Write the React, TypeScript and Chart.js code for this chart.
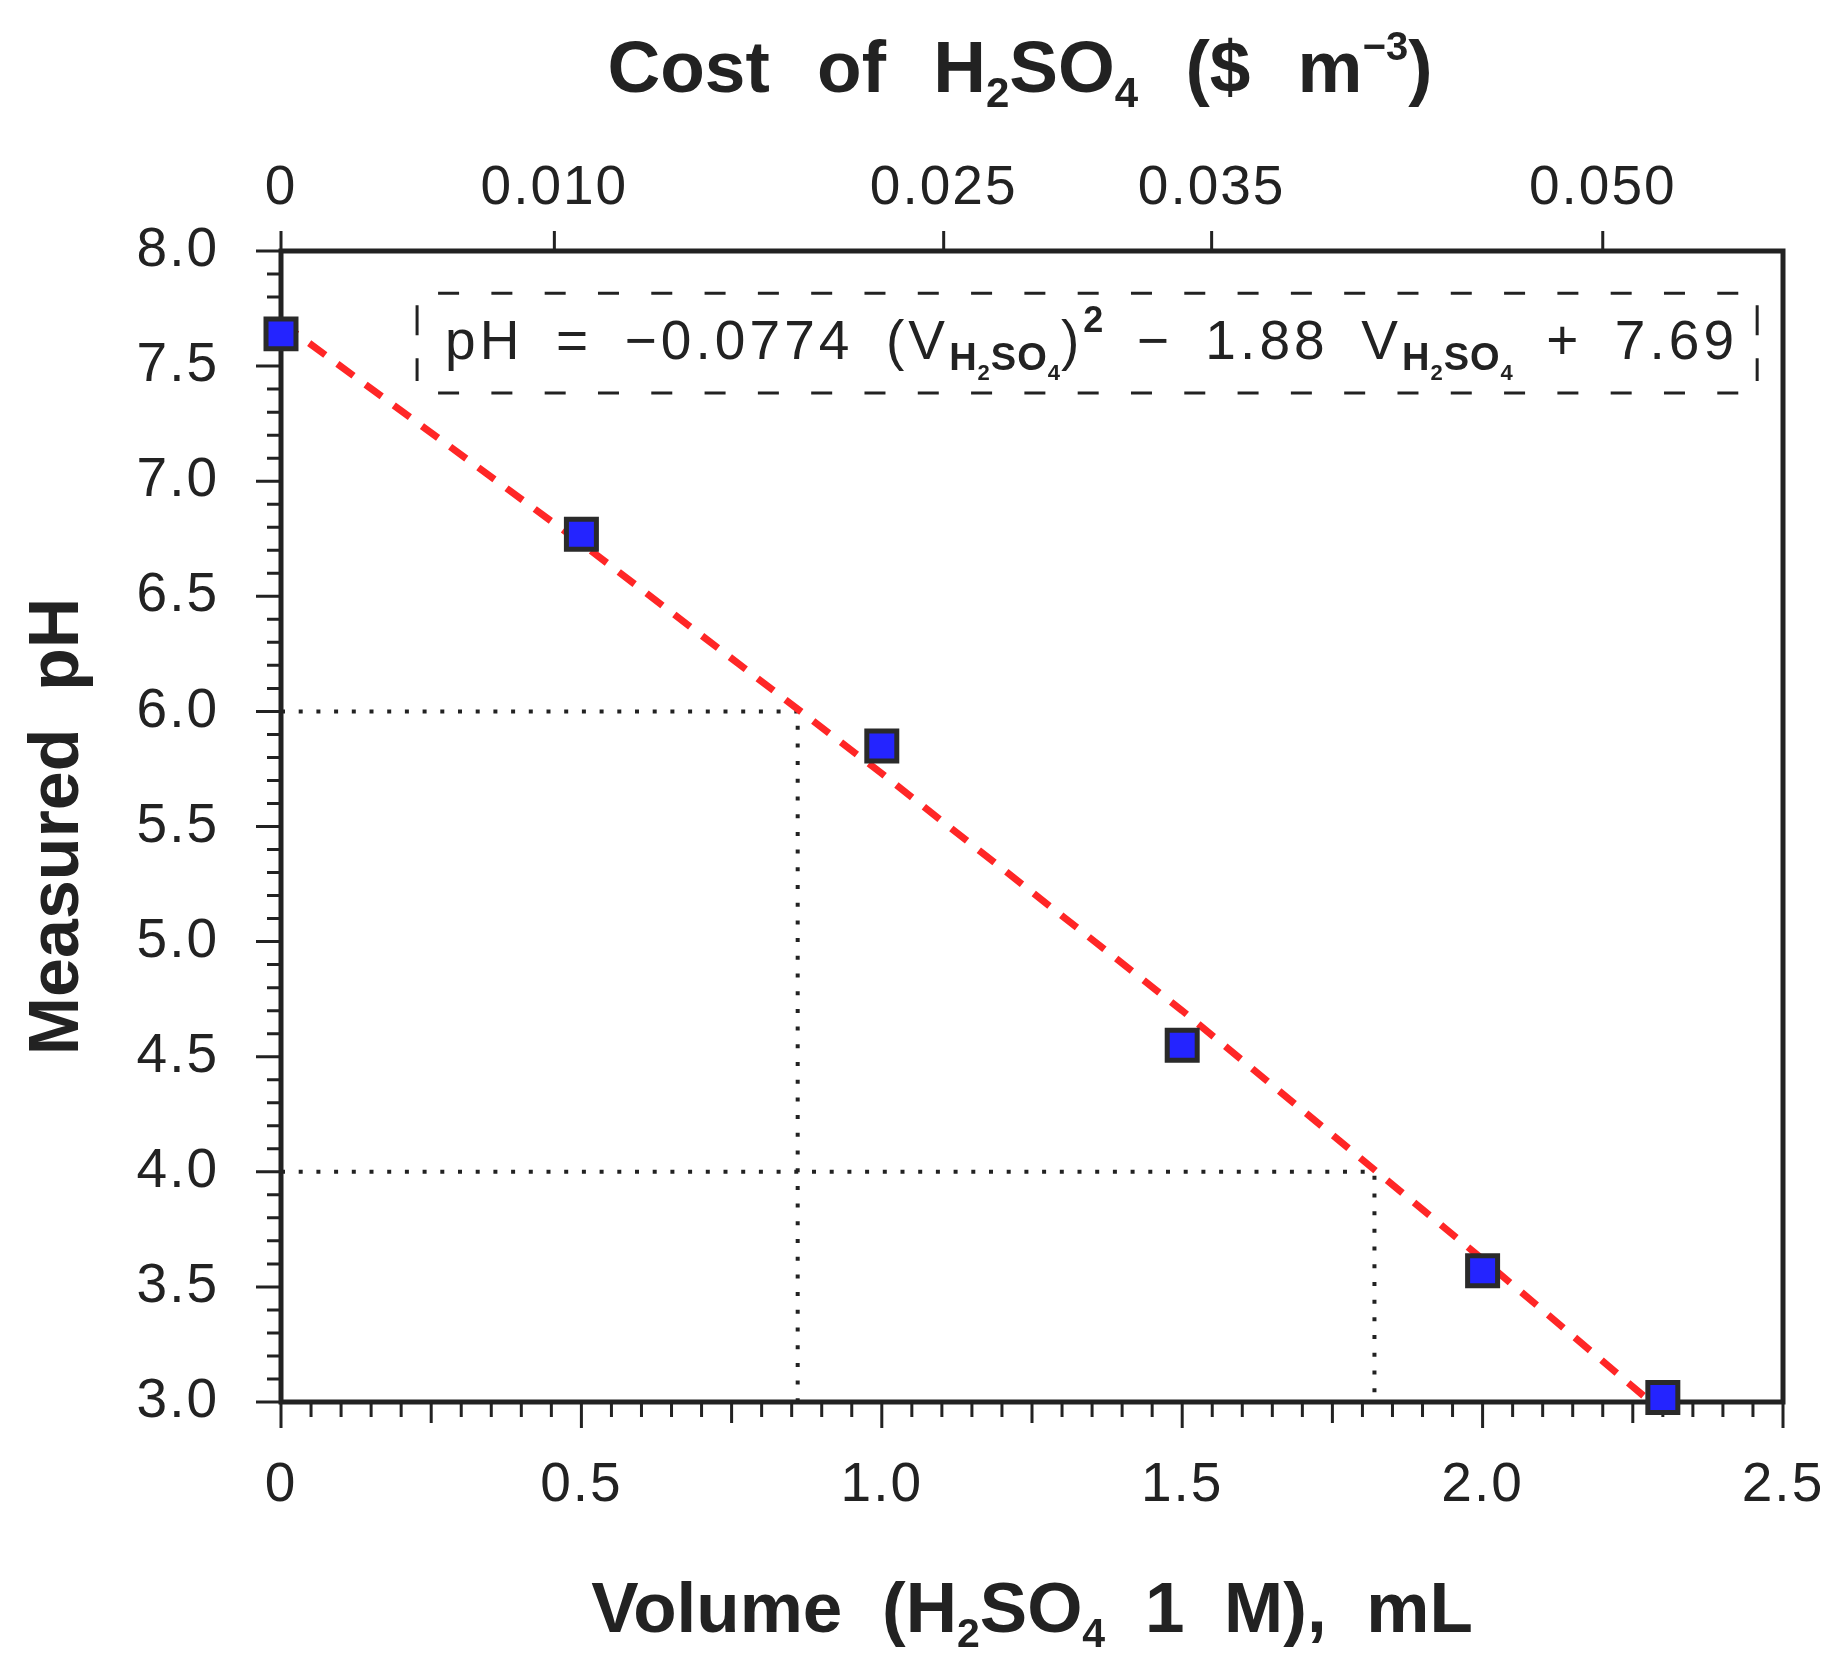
import { useEffect, useRef } from "react";
import { Chart, registerables } from "chart.js";
import type { ChartConfiguration, Plugin, Scale } from "chart.js";

Chart.register(...registerables);

// measured pH after each addition of 1 M H2SO4 (mL)
const volume = [0, 0.5, 1.0, 1.5, 2.0, 2.3];
const measuredPh = [7.64, 6.77, 5.85, 4.55, 3.57, 3.02];

// quadratic fit
const fitVolume = [0, 0.5, 1.0, 1.5, 2.0, 2.28];
const fitPh = [7.69, 6.73, 5.73, 4.7, 3.62, 3.0];

// dotted guides for pH 6 and pH 4
const guide6Volume = [0, 0.86, 0.86];
const guide6Ph = [6, 6, 3];
const guide4Volume = [0, 1.82, 1.82];
const guide4Ph = [4, 4, 3];

const xTickValues = [0, 0.5, 1.0, 1.5, 2.0, 2.5];
const xTickLabels = ["0", "0.5", "1.0", "1.5", "2.0", "2.5"];
const yTickValues = [3, 3.5, 4, 4.5, 5, 5.5, 6, 6.5, 7, 7.5, 8];
const yTickLabels = ["3.0", "3.5", "4.0", "4.5", "5.0", "5.5", "6.0", "6.5", "7.0", "7.5", "8.0"];
// top axis: cost ticks, placed on the volume scale
const costTickPos = [0, 0.455, 1.103, 1.549, 2.2];
const costTickLabels = ["0", "0.010", "0.025", "0.035", "0.050"];

const INK = "#222222";
const FAMILY = '"Liberation Sans", Arial, Helvetica, sans-serif';

interface Run {
  text: string;
  size: number;
  bold?: boolean;
  dy?: number;
  ls?: number;
}

const fontOf = (r: Run) => `${r.bold ? "bold " : ""}${r.size}px ${FAMILY}`;

function drawRuns(
  ctx: CanvasRenderingContext2D,
  runs: Run[],
  x: number,
  y: number,
  align: "left" | "center",
  letter: number,
  word: number
) {
  const c = ctx as any;
  c.wordSpacing = `${word}px`;
  let total = 0;
  const widths = runs.map((r) => {
    c.letterSpacing = `${r.ls ?? letter}px`;
    ctx.font = fontOf(r);
    const w = ctx.measureText(r.text).width;
    total += w;
    return w;
  });
  let cx = align === "center" ? x - total / 2 : x;
  ctx.textAlign = "left";
  ctx.textBaseline = "alphabetic";
  runs.forEach((r, i) => {
    c.letterSpacing = `${r.ls ?? letter}px`;
    ctx.font = fontOf(r);
    ctx.fillText(r.text, cx, y + (r.dy ?? 0));
    cx += widths[i];
  });
  c.letterSpacing = "0px";
  c.wordSpacing = "0px";
}

const sub = (t: string): Run => ({ text: t, size: 42, bold: true, dy: 15 });
const topTitle: Run[] = [
  { text: "Cost of H", size: 73, bold: true },
  sub("2"),
  { text: "SO", size: 73, bold: true },
  sub("4"),
  { text: " ($ m", size: 73, bold: true },
  { text: "\u22123", size: 40, bold: true, dy: -32 },
  { text: ")", size: 73, bold: true },
];
const bottomTitle: Run[] = [
  { text: "Volume (H", size: 71, bold: true },
  { text: "2", size: 41, bold: true, dy: 15 },
  { text: "SO", size: 71, bold: true },
  { text: "4", size: 41, bold: true, dy: 15 },
  { text: " 1 M), mL", size: 71, bold: true },
];
const sideTitle: Run[] = [{ text: "Measured pH", size: 70, bold: true }];

const eqSub: Run[] = [
  { text: "H", size: 38, bold: true, dy: 11, ls: 1 },
  { text: "2", size: 22, bold: true, dy: 21, ls: 1 },
  { text: "SO", size: 38, bold: true, dy: 11, ls: 1 },
  { text: "4", size: 22, bold: true, dy: 21, ls: 1 },
];
const equation: Run[] = [
  { text: "pH = \u22120.0774 (V", size: 55 },
  ...eqSub,
  { text: ")", size: 55 },
  { text: "2", size: 36, bold: true, dy: -27, ls: 1 },
  { text: " \u2212 1.88 V", size: 55 },
  ...eqSub,
  { text: " + 7.69", size: 55 },
];

// equation box, in data units
const boxVolume = [0.2265, 2.457];
const boxPh = [7.817, 7.383];
const eqStart = { v: 0.273, ph: 7.531 };

const framePlugin: Plugin<"scatter"> = {
  id: "frame",
  beforeDatasetsDraw(chart) {
    const { ctx, chartArea: a } = chart;
    const x = chart.scales.x;
    const y = chart.scales.y;
    ctx.save();
    (ctx as any).letterSpacing = "0px";
    ctx.strokeStyle = INK;
    ctx.lineWidth = 5;
    ctx.strokeRect(a.left, a.top, a.right - a.left, a.bottom - a.top);

    ctx.lineWidth = 3;
    ctx.beginPath();
    for (let i = 0; i <= 50; i++) {
      const py = y.getPixelForValue(3 + i * 0.1);
      const len = i % 5 === 0 ? 25 : 14;
      ctx.moveTo(a.left, py);
      ctx.lineTo(a.left - len, py);
    }
    for (let i = 0; i <= 50; i++) {
      const px = x.getPixelForValue(i * 0.05);
      const len = i % 10 === 0 ? 26 : i % 5 === 0 ? 21 : 15;
      ctx.moveTo(px, a.bottom);
      ctx.lineTo(px, a.bottom + len);
    }
    for (const v of costTickPos) {
      const px = x.getPixelForValue(v);
      ctx.moveTo(px, a.top);
      ctx.lineTo(px, a.top - 20);
    }
    ctx.stroke();
    ctx.restore();
  },
  afterDraw(chart) {
    const { ctx, chartArea: a } = chart;
    const x = chart.scales.x;
    const y = chart.scales.y;
    ctx.save();
    ctx.fillStyle = INK;
    ctx.strokeStyle = INK;

    // axis titles
    drawRuns(ctx, topTitle, (a.left + a.right) / 2 - 12, 92, "center", 0, 27);
    drawRuns(ctx, bottomTitle, (a.left + a.right) / 2, 1632, "center", 0, 20);
    ctx.save();
    ctx.translate(78, (a.top + a.bottom) / 2);
    ctx.rotate(-Math.PI / 2);
    drawRuns(ctx, sideTitle, 0, 0, "center", 0, 18);
    ctx.restore();

    // dashed equation box
    const bx0 = x.getPixelForValue(boxVolume[0]);
    const bx1 = x.getPixelForValue(boxVolume[1]);
    const by0 = y.getPixelForValue(boxPh[0]);
    const by1 = y.getPixelForValue(boxPh[1]);
    ctx.lineWidth = 3;
    ctx.setLineDash([21, 32.3]);
    ctx.beginPath();
    ctx.moveTo(bx0 + 21, by0);
    ctx.lineTo(bx1 - 18, by0);
    ctx.moveTo(bx0 + 21, by1);
    ctx.lineTo(bx1 - 18, by1);
    ctx.stroke();
    ctx.setLineDash([30, 23]);
    ctx.beginPath();
    ctx.moveTo(bx0, by0 + 12);
    ctx.lineTo(bx0, by1 - 12);
    ctx.moveTo(bx1, by0 + 12);
    ctx.lineTo(bx1, by1 - 12);
    ctx.stroke();
    ctx.setLineDash([]);

    drawRuns(
      ctx,
      equation,
      x.getPixelForValue(eqStart.v),
      y.getPixelForValue(eqStart.ph),
      "left",
      4.1,
      13
    );
    ctx.restore();
  },
};

const tickFont = { family: FAMILY, size: 55, lineHeight: 1 };

const pts = (xs: number[], ys: number[]) => xs.map((v, i) => ({ x: v, y: ys[i] }));

// keep the plot area free of Chart.js label-overflow padding
const noSidePadding = (s: Scale) => {
  s.paddingLeft = 0;
  s.paddingRight = 0;
};

const App = () => {
  const canvasRef = useRef<HTMLCanvasElement | null>(null);

  useEffect(() => {
    const canvas = canvasRef.current;
    if (!canvas) return;

    const config: ChartConfiguration<"scatter"> = {
      type: "scatter",
      data: {
        datasets: [
          {
            label: "Measured pH",
            data: pts(volume, measuredPh),
            showLine: false,
            pointStyle: "rect",
            pointRadius: 21.2,
            pointHoverRadius: 21.2,
            pointBorderWidth: 5,
            pointBackgroundColor: "#2424ff",
            pointBorderColor: "#2a2a2a",
            clip: false,
          },
          {
            label: "Fit",
            data: pts(fitVolume, fitPh),
            showLine: true,
            borderColor: "#ff2626",
            borderWidth: 7,
            borderDash: [20, 15],
            borderCapStyle: "butt",
            pointRadius: 0,
            tension: 0,
            clip: false,
          },
          {
            label: "pH 6",
            data: pts(guide6Volume, guide6Ph),
            showLine: true,
            borderColor: INK,
            borderWidth: 4,
            borderDash: [4, 13.7],
            borderCapStyle: "butt",
            pointRadius: 0,
            clip: false,
          },
          {
            label: "pH 4",
            data: pts(guide4Volume, guide4Ph),
            showLine: true,
            borderColor: INK,
            borderWidth: 4,
            borderDash: [4, 13.7],
            borderCapStyle: "butt",
            pointRadius: 0,
            clip: false,
          },
        ],
      },
      options: {
        responsive: false,
        animation: false,
        devicePixelRatio: 1,
        events: [],
        layout: { padding: { left: 0, right: 65, top: 0, bottom: 0 } },
        plugins: {
          legend: { display: false },
          tooltip: { enabled: false },
        },
        scales: {
          x: {
            type: "linear",
            position: "bottom",
            min: 0,
            max: 2.5,
            afterBuildTicks: (s: Scale) => {
              s.ticks = xTickValues.map((v) => ({ value: v }));
            },
            afterFit: (s: Scale) => {
              s.height = 274;
              noSidePadding(s);
            },
            grid: { display: false, drawTicks: false },
            border: { display: false },
            ticks: {
              autoSkip: false,
              maxRotation: 0,
              padding: 56,
              color: INK,
              font: tickFont,
              callback: (_v, i) => xTickLabels[i],
            },
          },
          x2: {
            type: "linear",
            position: "top",
            min: 0,
            max: 2.5,
            afterBuildTicks: (s: Scale) => {
              s.ticks = costTickPos.map((v) => ({ value: v }));
            },
            afterFit: (s: Scale) => {
              s.height = 251;
              noSidePadding(s);
            },
            grid: { display: false, drawTicks: false },
            border: { display: false },
            ticks: {
              autoSkip: false,
              maxRotation: 0,
              padding: 35,
              color: INK,
              font: tickFont,
              callback: (_v, i) => costTickLabels[i],
            },
          },
          y: {
            type: "linear",
            min: 3,
            max: 8,
            afterBuildTicks: (s: Scale) => {
              s.ticks = yTickValues.map((v) => ({ value: v }));
            },
            afterFit: (s: Scale) => {
              s.width = 281;
              s.paddingTop = 0;
              s.paddingBottom = 0;
            },
            grid: { display: false, drawTicks: false },
            border: { display: false },
            ticks: {
              autoSkip: false,
              padding: 62,
              color: INK,
              font: tickFont,
              callback: (_v, i) => yTickLabels[i],
            },
          },
        },
      },
      plugins: [
        {
          id: "tickSpacing",
          beforeDraw(chart) {
            (chart.ctx as any).letterSpacing = "2px";
          },
        },
        framePlugin,
      ],
    };

    const chart = new Chart(canvas, config);
    return () => chart.destroy();
  }, []);

  return (
    <div style={{ position: "absolute", left: 0, top: 0, width: 1848, height: 1676, background: "#fff" }}>
      <canvas ref={canvasRef} width={1848} height={1676} />
    </div>
  );
};

export default App;
